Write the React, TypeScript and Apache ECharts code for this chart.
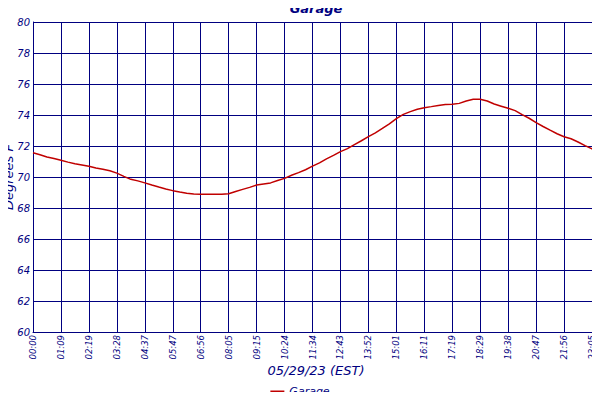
import { useEffect, useRef } from 'react';
import * as echarts from 'echarts';

const NAVY = '#000080';
const RED = '#c00000';

// labels shown on the time axis (one every 4 samples, plus the last sample)
const tickLabels = [
  '00:00', '01:09', '02:19', '03:28', '04:37', '05:47', '06:56', '08:05',
  '09:15', '10:24', '11:34', '12:43', '13:52', '15:01', '16:11', '17:19',
  '18:29', '19:38', '20:47', '21:56', '23:05',
];
const lastLabel = '23:59';
const samplesPerTick = 4;

// garage temperature, deg F, one value per sample
const garageTemps = [
  71.56, 71.44, 71.29, 71.19, 71.08, 70.96, 70.85, 70.77, 70.69, 70.58,
  70.5, 70.4, 70.25, 70.04, 69.85, 69.75, 69.62, 69.48, 69.35, 69.23,
  69.12, 69.03, 68.95, 68.9, 68.88, 68.88, 68.88, 68.88, 68.92, 69.07,
  69.2, 69.33, 69.48, 69.55, 69.62, 69.77, 69.91, 70.11, 70.28, 70.47,
  70.7, 70.91, 71.17, 71.4, 71.64, 71.83, 72.09, 72.34, 72.6, 72.85,
  73.13, 73.43, 73.76, 74.04, 74.22, 74.37, 74.47, 74.54, 74.62, 74.67,
  74.69, 74.75, 74.9, 75.01, 75.01, 74.9, 74.71, 74.57, 74.43, 74.28,
  74.02, 73.79, 73.51, 73.26, 73.02, 72.79, 72.6, 72.47, 72.26, 72.02,
  71.81, 71.6,
];

const lastIdx = garageTemps.length - 1;
// samples between ticks get an empty name, so every label can be drawn
const categories = garageTemps.map((_, i) => {
  if (i === lastIdx) return lastLabel;
  return i % samplesPerTick === 0 ? tickLabels[i / samplesPerTick] : '';
});

const isGridLine = (i: number) => i % samplesPerTick === 0 || i === lastIdx;

const FONT = '"DejaVu Sans", Verdana, sans-serif';

export default function App() {
  const chartRef = useRef<HTMLDivElement>(null);

  useEffect(() => {
    if (!chartRef.current) return;
    const chart = echarts.init(chartRef.current, undefined, { renderer: 'svg' });

    chart.setOption({
      animation: false,
      backgroundColor: '#ffffff',
      title: {
        text: 'Garage',
        left: 316,
        textAlign: 'center',
        top: 2,
        padding: 0,
        textStyle: {
          color: NAVY,
          fontSize: 13,
          fontWeight: 'bold',
          fontStyle: 'italic',
          fontFamily: FONT,
        },
      },
      legend: {
        top: 386,
        left: 'center',
        padding: 0,
        itemWidth: 14,
        itemHeight: 2,
        itemGap: 4,
        icon: 'rect',
        textStyle: { color: NAVY, fontSize: 11, fontStyle: 'italic', fontFamily: FONT },
        data: ['Garage'],
      },
      grid: { left: 33, right: 1, top: 22, bottom: 68, containLabel: false, outerBoundsMode: 'none' },
      xAxis: {
        type: 'category',
        boundaryGap: false,
        data: categories,
        name: '05/29/23 (EST)',
        nameLocation: 'middle',
        nameGap: 32,
        nameMoveOverlap: false,
        nameTextStyle: { color: NAVY, fontSize: 13, fontStyle: 'italic', fontFamily: FONT },
        axisLine: { lineStyle: { color: NAVY, width: 1 } },
        axisTick: { show: false },
        axisLabel: {
          interval: 0,
          rotate: 90,
          color: NAVY,
          fontSize: 8.5,
          fontStyle: 'italic',
          fontFamily: FONT,
          margin: 3,
          hideOverlap: false,
        },
        splitLine: {
          show: true,
          interval: (i: number) => isGridLine(i),
          lineStyle: { color: NAVY, width: 1 },
        },
      },
      yAxis: {
        type: 'value',
        min: 60,
        max: 80,
        interval: 2,
        name: 'Degrees F',
        nameLocation: 'middle',
        nameGap: 18,
        nameMoveOverlap: false,
        nameTextStyle: { color: NAVY, fontSize: 13, fontStyle: 'italic', fontFamily: FONT },
        axisLine: { show: true, lineStyle: { color: NAVY, width: 1 } },
        axisTick: { show: false },
        axisLabel: {
          color: NAVY,
          fontSize: 10,
          fontStyle: 'italic',
          fontFamily: FONT,
          margin: 3,
        },
        splitLine: { lineStyle: { color: NAVY, width: 1 } },
      },
      series: [
        {
          name: 'Garage',
          type: 'line',
          data: garageTemps,
          showSymbol: false,
          symbol: 'none',
          itemStyle: { color: RED },
          lineStyle: { color: RED, width: 1.5 },
        },
      ],
    });

    return () => {
      chart.dispose();
    };
  }, []);

  return <div ref={chartRef} style={{ width: 600, height: 400, margin: -8 }} />;
}
